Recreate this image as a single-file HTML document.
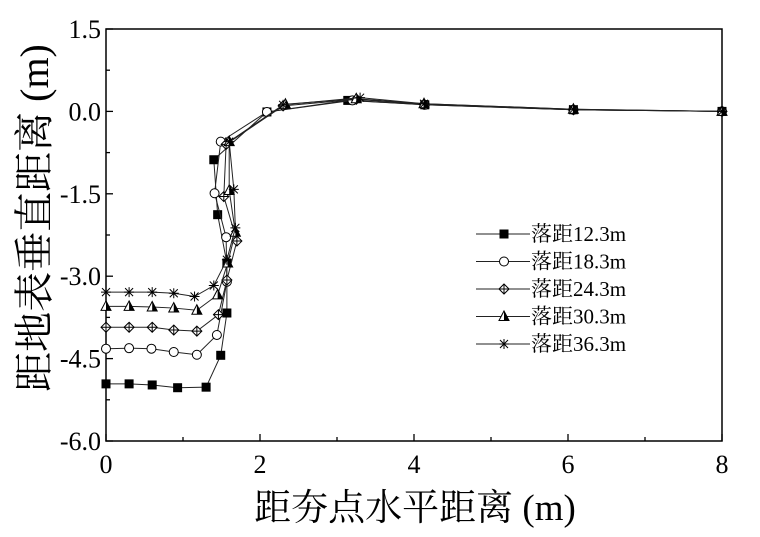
<!DOCTYPE html>
<html><head><meta charset="utf-8"><style>
body{margin:0;background:#fff;}
svg{display:block;font-family:"Liberation Serif","Noto Serif CJK SC",serif;}
</style></head><body>
<svg id="chart" width="760" height="537" viewBox="0 0 760 537" xmlns="http://www.w3.org/2000/svg">
<rect x="106" y="29" width="616" height="412" fill="none" stroke="#000" stroke-width="1.5"/>
<g id="axes"></g>
<g id="series"></g>
<g id="legend"></g>
<text x="415" y="520" text-anchor="middle" font-size="37" font-family="Liberation Serif, Noto Serif CJK SC, serif">距夯点水平距离 (m)</text>
<text transform="translate(48,218) rotate(-90)" text-anchor="middle" font-size="40" font-family="Liberation Serif, Noto Serif CJK SC, serif">距地表垂直距离 (m)</text>
</svg>
<script>
const seriesNames=["落距12.3m","落距18.3m","落距24.3m","落距30.3m","落距36.3m"];
const markers=["square","circle","diamond","triangle","star"];
const xs123=[0,0.3,0.6,0.93,1.3,1.49,1.57,1.57,1.45,1.40,2.09,3.14,4.14,6.07,8];
const ys123=[-4.96,-4.96,-4.98,-5.03,-5.02,-4.44,-3.67,-2.76,-1.88,-0.88,-0.01,0.2,0.12,0.03,0];
const xs183=[0,0.3,0.59,0.88,1.18,1.44,1.57,1.56,1.41,1.49,2.09,3.2,4.14,6.07,8];
const ys183=[-4.32,-4.31,-4.32,-4.38,-4.43,-4.07,-3.1,-2.29,-1.49,-0.55,-0.01,0.2,0.12,0.03,0];
const xs243=[0,0.3,0.6,0.88,1.18,1.46,1.57,1.7,1.53,1.56,2.3,3.25,4.13,6.07,8];
const ys243=[-3.93,-3.93,-3.93,-3.98,-4.0,-3.7,-3.07,-2.36,-1.55,-0.6,0.1,0.22,0.13,0.03,0];
const xs303=[0,0.3,0.6,0.88,1.18,1.45,1.58,1.68,1.6,1.6,2.33,3.25,4.13,6.07,8];
const ys303=[-3.55,-3.55,-3.56,-3.58,-3.62,-3.34,-2.76,-2.2,-1.44,-0.55,0.13,0.23,0.14,0.04,0];
const xs363=[0,0.3,0.6,0.88,1.15,1.4,1.57,1.68,1.66,1.6,2.3,3.3,4.13,6.07,8];
const ys363=[-3.29,-3.29,-3.29,-3.31,-3.37,-3.17,-2.7,-2.12,-1.42,-0.55,0.12,0.25,0.14,0.04,0];
const xTicks=[0,2,4,6,8];
const yTicks=[1.5,0.0,-1.5,-3.0,-4.5,-6.0];
const yTickLabels=["1.5","0.0","-1.5","-3.0","-4.5","-6.0"];

const NS="http://www.w3.org/2000/svg";
const X0=106,X1=722,Y0=441,Y1=29;
function sx(v){return X0+(v-0)/(8-0)*(X1-X0);}
function sy(v){return Y0-(v-(-6))/(1.5-(-6))*(Y0-Y1);}
function mk(t,a,p){const e=document.createElementNS(NS,t);for(const k in a)e.setAttribute(k,a[k]);p.appendChild(e);return e;}
const axes=document.getElementById('axes');
for(let v=0;v<=8;v+=1){const major=v%2===0;
 const t=mk('line',{x1:sx(v),x2:sx(v),y1:Y0,y2:Y0-(major?7:4),stroke:'#000','stroke-width':1.3},axes);
 
 }
for(let i=0;i<=10;i++){const v=-6+i*0.75;const major=i%2===0;
 const t=mk('line',{x1:X0,x2:X0+(major?7:4),y1:sy(v),y2:sy(v),stroke:'#000','stroke-width':1.3},axes);
 
 }
xTicks.forEach(v=>{const t=mk('text',{x:sx(v),y:Y0+32,'text-anchor':'middle','font-size':26},axes);t.textContent=String(v);
 
 });
yTicks.forEach((v,i)=>{const t=mk('text',{x:X0-5,y:sy(v)+9,'text-anchor':'end','font-size':26},axes);t.textContent=yTickLabels[i];
 
 });

function marker(type,cx,cy,g){
 const s=4.5;let e;
 if(type==='square')e=mk('rect',{x:cx-s,y:cy-s,width:2*s,height:2*s,fill:'#000'},g);
 else if(type==='circle')e=mk('circle',{cx:cx,cy:cy,r:s,fill:'#fff',stroke:'#000','stroke-width':1},g);
 else if(type==='diamond'){e=mk('path',{d:`M${cx} ${cy-5}L${cx+5} ${cy}L${cx} ${cy+5}L${cx-5} ${cy}Z M${cx} ${cy-5}V${cy+5} M${cx-5} ${cy}H${cx+5}`,fill:'#fff',stroke:'#000','stroke-width':1},g);}
 else if(type==='triangle'){e=mk('path',{d:`M${cx} ${cy-5.5}L${cx+5} ${cy+4}L${cx-5} ${cy+4}Z`,fill:'#fff',stroke:'#000','stroke-width':1},g);
  mk('path',{d:`M${cx} ${cy-5.5}L${cx+5} ${cy+4}L${cx} ${cy+4}Z`,fill:'#000'},g);}
 else {e=mk('path',{d:`M${cx-5} ${cy}H${cx+5}M${cx} ${cy-5}V${cy+5}M${cx-4} ${cy-4}L${cx+4} ${cy+4}M${cx-4} ${cy+4}L${cx+4} ${cy-4}`,stroke:'#000','stroke-width':1},g);}
 return e;}
const data=[[xs123,ys123],[xs183,ys183],[xs243,ys243],[xs303,ys303],[xs363,ys363]];
const sg=document.getElementById('series');
data.forEach((d,i)=>{
 const g=mk('g',{},sg);
 
 
 const pts=d[0].map((x,j)=>sx(x)+','+sy(d[1][j])).join(' ');
 const l=mk('polyline',{points:pts,fill:'none',stroke:'#222','stroke-width':1},g);
 
 
 d[0].forEach((x,j)=>{const m=marker(markers[i],sx(x),sy(d[1][j]),g);
  
  });
});
const lg=document.getElementById('legend');
seriesNames.forEach((n,i)=>{const y=234+i*27.5;
 const g=mk('g',{},lg);
 
 
 mk('line',{x1:476,x2:530,y1:y,y2:y,stroke:'#222','stroke-width':1},g);
 marker(markers[i],504,y,g);
 const t=mk('text',{x:531,y:y+7,'font-size':21},g);t.textContent=n;});
</script>
</body></html>
